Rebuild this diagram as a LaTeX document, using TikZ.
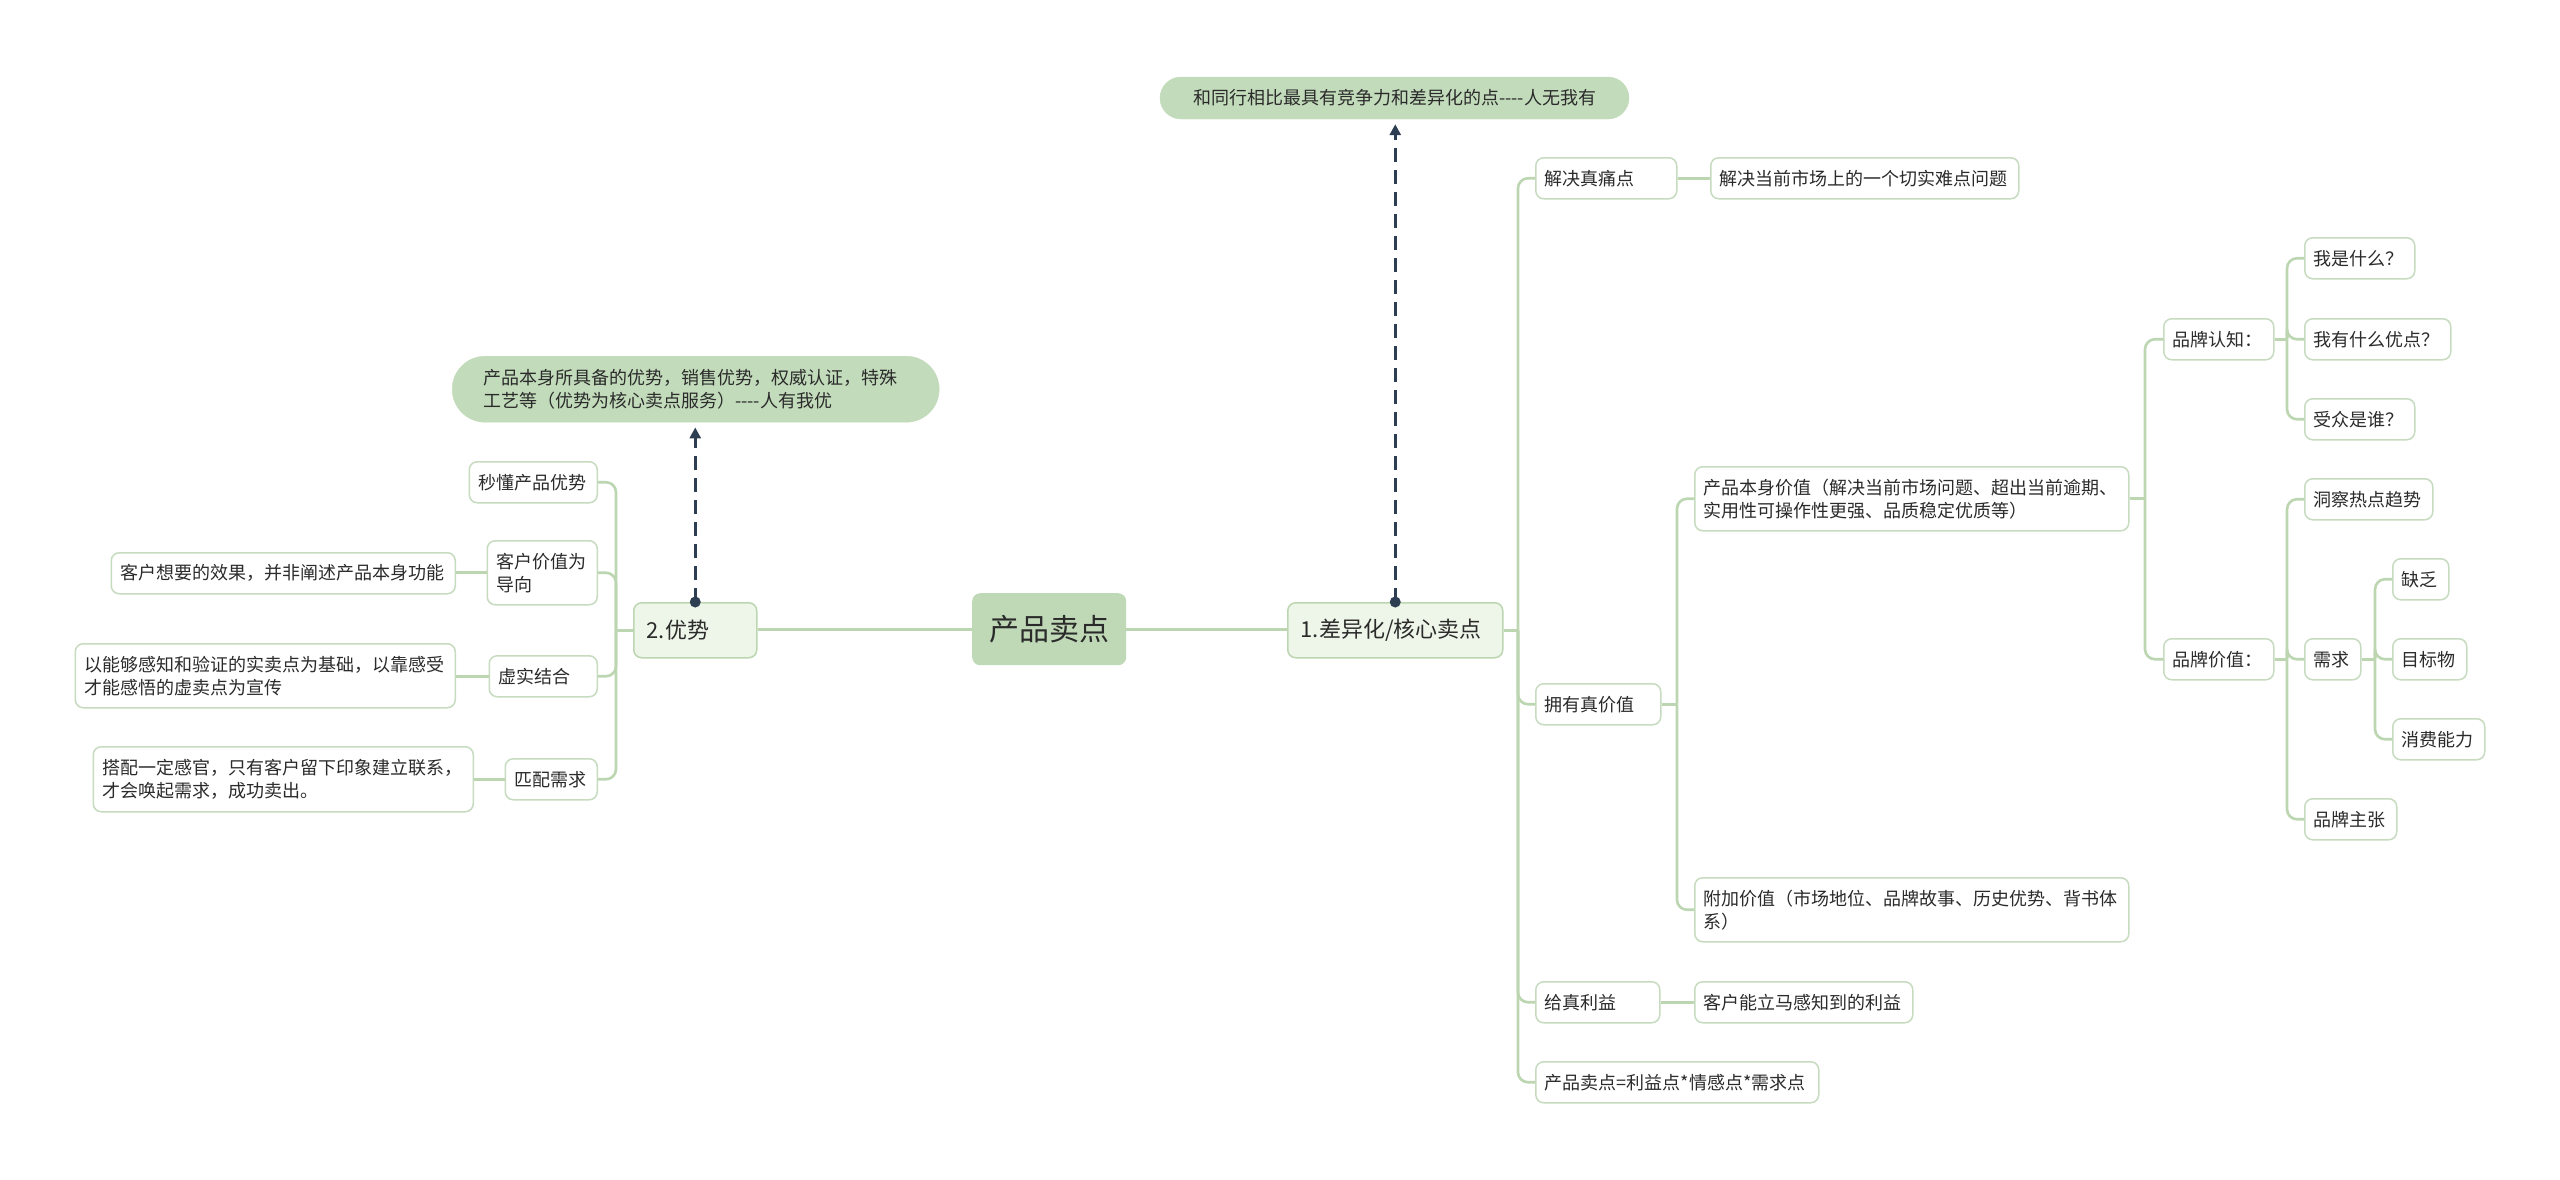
\documentclass[tikz,border=0pt]{standalone}
\usepackage{fontspec}
\setmainfont{Noto Sans CJK SC}
\usetikzlibrary{arrows.meta}
\definecolor{lineg}{HTML}{BCD6B2}
\definecolor{boxb}{HTML}{C6DBBF}
\definecolor{rootf}{HTML}{BFD9B7}
\definecolor{lvf}{HTML}{EEF6E9}
\definecolor{calf}{HTML}{C2DBBA}
\definecolor{navy}{HTML}{2E3E52}
\definecolor{txt}{HTML}{2B2B2B}
\begin{document}
\begin{tikzpicture}[x=1pt,y=-1pt,
  base/.style={anchor=north west, inner ysep=0pt, align=left, text=txt, font=\fontsize{18}{23}\selectfont},
  leaf/.style={base, draw=boxb, fill=white, line width=1.5pt, rounded corners=8pt, inner xsep=9pt, minimum height=41pt},
  leaftwo/.style={leaf, minimum height=64pt},
  lvone/.style={base, draw=lineg, fill=lvf, line width=1.5pt, rounded corners=8pt, inner xsep=13pt, minimum height=55pt, font=\fontsize{22}{26}\selectfont},
  rootbox/.style={base, fill=rootf, rounded corners=8pt, inner xsep=11pt, minimum height=72pt, align=center, font=\fontsize{30}{34}\selectfont},
  callout/.style={base, fill=calf, draw=calf},
  conn/.style={draw=lineg, line width=2.6pt},
  connr/.style={conn, rounded corners=10pt},
  dasharrow/.style={draw=navy, line width=3pt, dash pattern=on 14pt off 8pt, -{Triangle[length=11pt,width=11pt]}, shorten >=5pt}
]
\useasboundingbox (0,0) rectangle (2560,1179);
\fill[white] (0,0) rectangle (2560,1179);

% trunk x positions
\coordinate (TL) at (616,0);
\coordinate (T1) at (1518,0);
\coordinate (T2) at (1677,0);
\coordinate (T3) at (2145,0);
\coordinate (T4) at (2287,0);
\coordinate (T5) at (2375,0);

% root and first level
\node[rootbox, text width=132pt] (c0) at (972,593) {产品卖点};
\node[lvone, text width=189pt] (n1) at (1287,602) {1.差异化/核心卖点};
\node[lvone, text width=97pt] (n2) at (633,602) {2.优势};

% callouts
\node[callout, anchor=center, minimum width=469pt, minimum height=42pt, rounded corners=21pt, inner xsep=0pt, align=center] (cal1) at (1394.5,98) {和同行相比最具有竞争力和差异化的点-{}-{}-{}-人无我有};
\node[callout, minimum height=66pt, rounded corners=33pt, inner xsep=31pt, text width=425pt] (cal2) at (452,356) {产品本身所具备的优势，销售优势，权威认证，特殊\\工艺等（优势为核心卖点服务）-{}-{}-{}-人有我优};

% left side
\node[leaf, anchor=north east, text width=110pt] (l1) at (598,461) {秒懂产品优势};
\node[leaftwo, anchor=north east, text width=92pt] (l2) at (598,540) {客户价值为\\导向};
\node[leaf, anchor=north east, text width=90pt] (l3) at (598,655) {虚实结合};
\node[leaf, anchor=north east, text width=74pt] (l4) at (598,758) {匹配需求};
\node[leaf, anchor=north east, text width=326pt] (g1) at (456,552) {客户想要的效果，并非阐述产品本身功能};
\node[leaftwo, anchor=north east, text width=362pt] (g2) at (456,643) {以能够感知和验证的实卖点为基础，以靠感受\\才能感悟的虚卖点为宣传};
\node[leaftwo, minimum height=65pt, anchor=north east, text width=362pt] (g3) at (474,746) {搭配一定感官，只有客户留下印象建立联系，\\才会唤起需求，成功卖出。};

% right side
\node[leaf, text width=123pt] (r1) at (1535,157) {解决真痛点};
\node[leaf, text width=290pt] (r1a) at (1710,157) {解决当前市场上的一个切实难点问题};
\node[leaf, text width=107pt] (r2) at (1535,683) {拥有真价值};
\node[leaftwo, text width=416pt] (r2a) at (1694,466) {产品本身价值（解决当前市场问题、超出当前逾期、\\实用性可操作性更强、品质稳定优质等）};
\node[leaftwo, text width=416pt] (r2b) at (1694,877) {附加价值（市场地位、品牌故事、历史优势、背书体\\系）};
\node[leaf, text width=106pt] (r3) at (1535,981) {给真利益};
\node[leaf, text width=200pt] (r3a) at (1694,981) {客户能立马感知到的利益};
\node[leaf, text width=265pt] (r4) at (1535,1061) {产品卖点=利益点*情感点*需求点};

\node[leaf, text width=92pt] (b1) at (2163,318) {品牌认知：};
\node[leaf, text width=92pt] (b2) at (2163,638) {品牌价值：};
\node[leaf, text width=92pt] (q1) at (2304,237) {我是什么？};
\node[leaf, text width=128pt] (q2) at (2304,318) {我有什么优点？};
\node[leaf, text width=92pt] (q3) at (2304,398) {受众是谁？};
\node[leaf, text width=110pt] (v1) at (2304,478) {洞察热点趋势};
\node[leaf, text width=38pt] (v2) at (2304,638) {需求};
\node[leaf, text width=74pt] (v3) at (2304,798) {品牌主张};
\node[leaf, text width=38pt] (w1) at (2392,558) {缺乏};
\node[leaf, text width=56pt] (w2) at (2392,638) {目标物};
\node[leaf, text width=74pt] (w3) at (2392,718) {消费能力};

% connectors: root
\draw[conn] (c0.east) -- (n1.west |- c0.east);
\draw[conn] (c0.west) -- (n2.east |- c0.west);

% left tree
\draw[conn] (n2.west) -- (n2.west -| TL);
\foreach \c in {l1,l2,l3,l4} { \draw[connr] (n2.west -| TL) |- (\c.east); }
\draw[conn] (l2.west) -- (g1.east |- l2.west);
\draw[conn] (l3.west) -- (g2.east |- l3.west);
\draw[conn] (l4.west) -- (g3.east |- l4.west);

% right tree
\draw[conn] (n1.east) -- (n1.east -| T1);
\foreach \c in {r1,r2,r3,r4} { \draw[connr] (n1.east -| T1) |- (\c.west); }
\draw[conn] (r1.east) -- (r1a.west);
\draw[conn] (r3.east) -- (r3a.west);
\draw[conn] (r2.east) -- (r2.east -| T2);
\foreach \c in {r2a,r2b} { \draw[connr] (r2.east -| T2) |- (\c.west); }
\draw[conn] (r2a.east) -- (r2a.east -| T3);
\foreach \c in {b1,b2} { \draw[connr] (r2a.east -| T3) |- (\c.west); }
\draw[conn] (b1.east) -- (b1.east -| T4);
\foreach \c in {q1,q2,q3} { \draw[connr] (b1.east -| T4) |- (\c.west); }
\draw[conn] (b2.east) -- (b2.east -| T4);
\foreach \c in {v1,v2,v3} { \draw[connr] (b2.east -| T4) |- (\c.west); }
\draw[conn] (v2.east) -- (v2.east -| T5);
\foreach \c in {w1,w2,w3} { \draw[connr] (v2.east -| T5) |- (\c.west); }

% dashed relation arrows
\draw[dasharrow] (n1.north) -- (n1.north |- cal1.south);
\fill[navy] (n1.north) circle (5.5);
\draw[dasharrow] (n2.north) -- (n2.north |- cal2.south);
\fill[navy] (n2.north) circle (5.5);
\end{tikzpicture}
\end{document}
